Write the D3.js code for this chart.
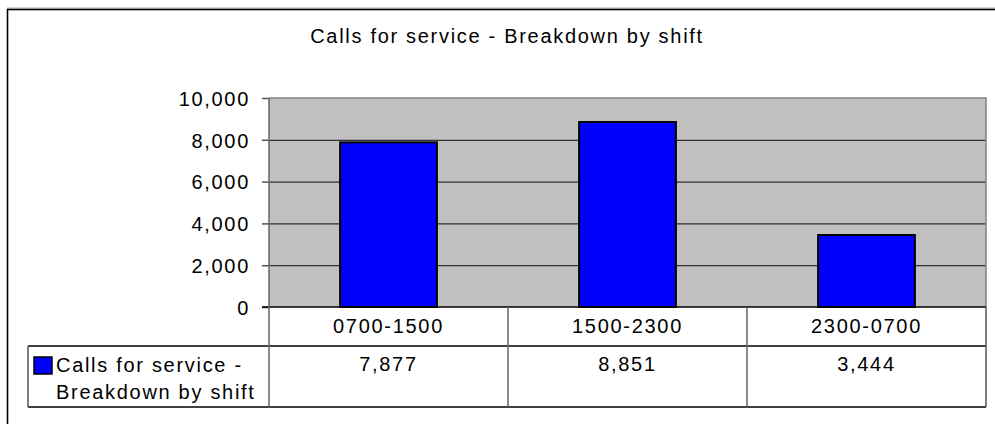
<!DOCTYPE html>
<html>
<head>
<meta charset="utf-8">
<script src="https://cdn.jsdelivr.net/npm/d3@7"></script>
<style>
	body { margin: 0; background: #fff; }
	text { font-family: "Liberation Sans", Arial, sans-serif; font-size: 20px; letter-spacing: 1.7px; fill: #000; }
</style>
</head>
<body>
<div id="chartWrapper"></div>
<script>

const shifts = ["0700-1500", "1500-2300", "2300-0700"];
const calls = [7877, 8851, 3444];
const yTicks = [0, 2000, 4000, 6000, 8000, 10000];
const seriesName = ["Calls for service -", "Breakdown by shift"];
const chartTitle = "Calls for service - Breakdown by shift";

const width = 995, height = 424;
const plot = { left: 269, right: 986, top: 98, bottom: 307 };
const table = { left: 28, row1: 346, row2: 407 };

function appendToParent(parent, el, cls, transform){
	let sel = parent.append(el).attr('class', cls);
	if(transform) sel.attr('transform', transform);
	return sel;
}

function buildBarChart(parentID){

	const div = d3.select(`#${parentID}`);

	let svg = appendToParent(div, 'svg', 'svgWrapper', null)
		.attr('width', width)
		.attr('height', height);

	// outer frame, runs off the right and bottom edge
	svg.append('line').attr('x1', 7).attr('x2', width).attr('y1', 8).attr('y2', 8)
		.attr('stroke', '#aaa').attr('stroke-width', 1);
	svg.append('rect')
		.attr('x', 7.5).attr('y', 9.5)
		.attr('width', width + 10).attr('height', height + 10)
		.attr('fill', 'none').attr('stroke', '#000').attr('stroke-width', 1.6);

	svg.append('text')
		.attr('x', 507).attr('y', 43)
		.attr('text-anchor', 'middle')
		.text(chartTitle);

	const x = d3.scaleBand()
		.domain(shifts)
		.range([plot.left, plot.right])
		.padding(0);

	const y = d3.scaleLinear()
		.domain([0, 10000])
		.range([plot.bottom, plot.top]);

	// plot background
	svg.append('rect')
		.attr('x', plot.left).attr('y', plot.top)
		.attr('width', plot.right - plot.left).attr('height', plot.bottom - plot.top)
		.attr('fill', '#c0c0c0');

	// gridlines
	let grid = appendToParent(svg, 'g', 'grid', `translate(${plot.left},0)`)
		.call(d3.axisLeft(y).tickValues(yTicks.slice(1, -1)).tickSize(-(plot.right - plot.left)).tickFormat(''));
	grid.select('.domain').remove();
	grid.selectAll('line').attr('stroke', '#333').attr('stroke-width', 1.2);

	// top + right border of plot
	svg.append('path')
		.attr('d', `M${plot.left},${y(10000)}H${plot.right}V${plot.bottom}`)
		.attr('fill', 'none').attr('stroke', '#808080').attr('stroke-width', 1.5);

	// bars
	const barW = x.bandwidth() * 0.405;
	svg.selectAll('.bar').data(calls).join('rect')
		.attr('class', 'bar')
		.attr('x', (d, i) => x(shifts[i]) + (x.bandwidth() - barW) / 2)
		.attr('y', d => y(d))
		.attr('width', barW)
		.attr('height', d => y(0) - y(d))
		.attr('fill', '#0000ff')
		.attr('stroke', '#000')
		.attr('stroke-width', 2);

	// y axis
	let yAxis = appendToParent(svg, 'g', 'yAxis', `translate(${plot.left},0)`)
		.call(d3.axisLeft(y).tickValues(yTicks).tickSize(7).tickPadding(12).tickFormat(d3.format(',')));
	yAxis.select('.domain').remove();
	yAxis.selectAll('line').attr('stroke', '#555').attr('stroke-width', 1.5);
	yAxis.selectAll('text').attr('font-size', null).attr('font-family', null).attr('dy', '0.36em');

	// zero line
	svg.append('line')
		.attr('x1', plot.left - 7).attr('x2', plot.right)
		.attr('y1', y(0)).attr('y2', y(0))
		.attr('stroke', '#000').attr('stroke-width', 1.5);

	// data table
	let tbl = appendToParent(svg, 'g', 'dataTable', null);
	[table.row1, table.row2].forEach(r => {
		tbl.append('line')
			.attr('x1', table.left).attr('x2', plot.right)
			.attr('y1', r).attr('y2', r)
			.attr('stroke', '#000').attr('stroke-width', 1.5);
	});
	tbl.append('line')
		.attr('x1', table.left).attr('x2', table.left)
		.attr('y1', table.row1).attr('y2', table.row2)
		.attr('stroke', '#555').attr('stroke-width', 1.5);

	const colEdges = shifts.map(s => x(s)).concat([plot.right]);
	tbl.selectAll('.colLine').data(colEdges).join('line')
		.attr('class', 'colLine')
		.attr('x1', d => d).attr('x2', d => d)
		.attr('y1', (d, i) => i == 0 ? plot.top : y(0))
		.attr('y2', table.row2)
		.attr('stroke', (d, i) => i == colEdges.length - 1 ? '#555' : '#666')
		.attr('stroke-width', 1.5);

	tbl.selectAll('.catLabel').data(shifts).join('text')
		.attr('class', 'catLabel')
		.attr('x', d => x(d) + x.bandwidth() / 2)
		.attr('y', 333)
		.attr('text-anchor', 'middle')
		.text(d => d);

	tbl.selectAll('.valLabel').data(calls).join('text')
		.attr('class', 'valLabel')
		.attr('x', (d, i) => x(shifts[i]) + x.bandwidth() / 2)
		.attr('y', 371)
		.attr('text-anchor', 'middle')
		.text(d => d3.format(',')(d));

	// legend key
	tbl.append('rect')
		.attr('x', 34).attr('y', 357)
		.attr('width', 18).attr('height', 17)
		.attr('fill', '#0000ff').attr('stroke', '#000').attr('stroke-width', 1.5);

	let legendText = tbl.append('text').attr('x', 56).attr('y', 372);
	legendText.selectAll('tspan').data(seriesName).join('tspan')
		.attr('x', 56)
		.attr('dy', (d, i) => i == 0 ? 0 : 27)
		.text(d => d);
}

buildBarChart('chartWrapper');
</script>
</body>
</html>
